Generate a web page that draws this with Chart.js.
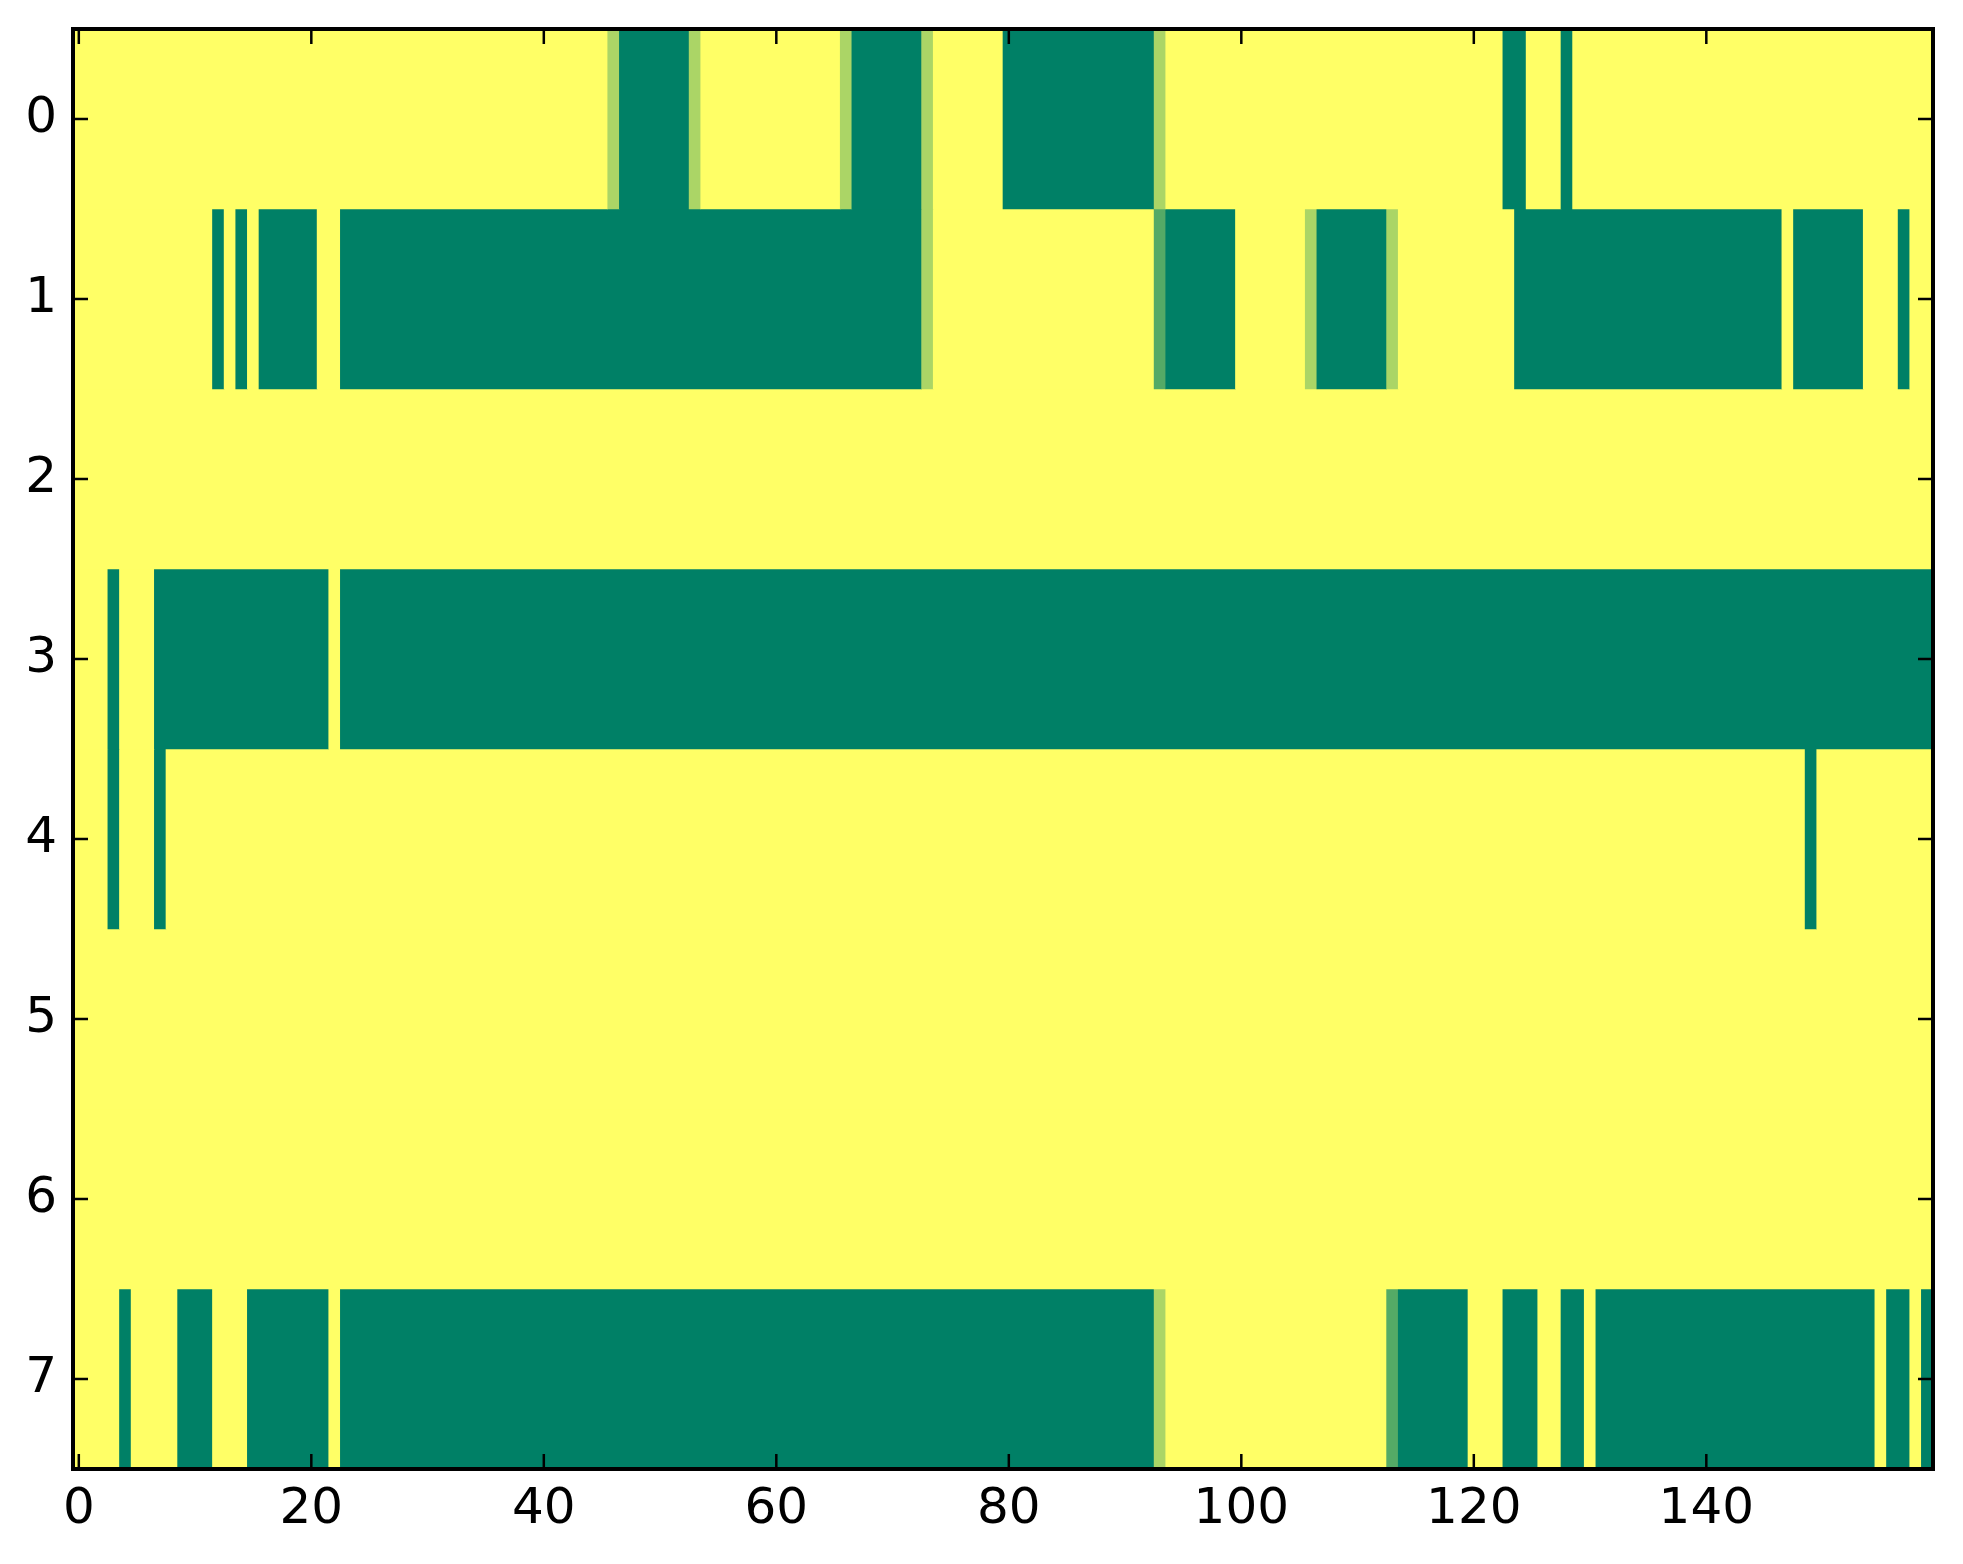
<!DOCTYPE html>
<html>
<head>
<meta charset="utf-8">
<script src="https://cdn.jsdelivr.net/npm/chart.js@4/dist/chart.umd.min.js"></script>
<style>
  html, body { margin: 0; padding: 0; background: #fff; }
  canvas { display: block; }
</style>
</head>
<body>
<canvas id="grid" width="1963" height="1564"></canvas>
<script>
// Linhas do mapa (0..7) e colunas (0..159)
const rowLabels = ['0', '1', '2', '3', '4', '5', '6', '7'];
const nCols = 160;
const xTicks = [0, 20, 40, 60, 80, 100, 120, 140];

// Trechos não-amarelos de cada linha: [coluna inicial, coluna final, valor]
const row0 = [[46, 46, 0.33], [47, 52, 1], [53, 53, 0.33], [66, 66, 0.33], [67, 72, 1], [73, 73, 0.33],
              [80, 92, 1], [93, 93, 0.33], [123, 124, 1], [128, 128, 1]];
const row1 = [[12, 12, 1], [14, 14, 1], [16, 20, 1], [23, 72, 1], [73, 73, 0.33], [93, 93, 0.67],
              [94, 99, 1], [106, 106, 0.33], [107, 112, 1], [113, 113, 0.33], [124, 146, 1],
              [148, 153, 1], [157, 157, 1]];
const row2 = [];
const row3 = [[3, 3, 1], [7, 21, 1], [23, 159, 1]];
const row4 = [[3, 3, 1], [7, 7, 1], [149, 149, 1]];
const row5 = [];
const row6 = [];
const row7 = [[4, 4, 1], [9, 11, 1], [15, 21, 1], [23, 92, 1], [93, 93, 0.33], [113, 113, 0.67],
              [114, 119, 1], [123, 125, 1], [128, 129, 1], [131, 154, 1], [156, 157, 1], [159, 159, 1]];
const rows = [row0, row1, row2, row3, row4, row5, row6, row7];

// colormap summer_r
const summerR = v => `rgb(${Math.round(255 * (1 - v))},${Math.round(255 * (1 - v / 2))},102)`;

// Expande cada linha em células e junta células iguais em faixas
function rowSegments(runs) {
  const cells = new Array(nCols).fill(0);
  runs.forEach(([a, b, v]) => { for (let c = a; c <= b; c++) cells[c] = v; });
  const segs = [];
  let start = 0;
  for (let c = 1; c <= nCols; c++) {
    if (c === nCols || cells[c] !== cells[start]) {
      segs.push({ start, end: c - 1, v: cells[start] });
      start = c;
    }
  }
  return segs;
}

const datasets = rows.map((runs, r) => {
  const segs = rowSegments(runs);
  return {
    data: segs.map(s => ({ x: [s.start - 0.5, s.end + 0.5], y: rowLabels[r] })),
    backgroundColor: segs.map(s => summerR(s.v)),
    borderWidth: 0,
    barPercentage: 1,
    categoryPercentage: 1,
    grouped: false
  };
});

// Fundo, moldura e marcas internas no estilo clássico
const framePlugin = {
  id: 'frame',
  beforeDatasetsDraw(chart) {
    const { ctx, chartArea: a } = chart;
    ctx.save();
    ctx.fillStyle = summerR(0);
    ctx.fillRect(a.left, a.top, a.right - a.left, a.bottom - a.top);
    ctx.restore();
  },
  afterDatasetsDraw(chart) {
    const { ctx, chartArea: a, scales } = chart;
    ctx.save();
    ctx.strokeStyle = '#000';
    ctx.lineWidth = 2.5;
    ctx.beginPath();
    xTicks.forEach(v => {
      const px = scales.x.getPixelForValue(v);
      ctx.moveTo(px, a.bottom); ctx.lineTo(px, a.bottom - 15);
      ctx.moveTo(px, a.top); ctx.lineTo(px, a.top + 15);
    });
    rowLabels.forEach((l, i) => {
      const py = scales.y.getPixelForValue(i);
      ctx.moveTo(a.left, py); ctx.lineTo(a.left + 15, py);
      ctx.moveTo(a.right, py); ctx.lineTo(a.right - 15, py);
    });
    ctx.stroke();
    ctx.lineWidth = 4;
    ctx.strokeRect(a.left, a.top, a.right - a.left, a.bottom - a.top);
    ctx.restore();
  }
};

new Chart(document.getElementById('grid').getContext('2d'), {
  type: 'bar',
  data: { labels: rowLabels, datasets },
  options: {
    indexAxis: 'y',
    responsive: false,
    animation: false,
    devicePixelRatio: 1,
    layout: { padding: { top: 29, right: 30, left: 0, bottom: 0 } },
    plugins: { legend: { display: false }, tooltip: { enabled: false } },
    scales: {
      x: {
        type: 'linear', min: -0.5, max: 159.5,
        grid: { display: false, drawTicks: false },
        border: { display: false },
        afterBuildTicks: s => { s.ticks = xTicks.map(v => ({ value: v })); },
        afterFit: s => { s.height = 95; s.paddingLeft = 0; s.paddingRight = 0; },
        ticks: { color: '#000', padding: 11, maxRotation: 0, autoSkip: false,
                 font: { family: 'DejaVu Sans', size: 50 } }
      },
      y: {
        type: 'category',
        grid: { display: false, drawTicks: false },
        border: { display: false },
        afterFit: s => { s.width = 73; s.paddingTop = 0; s.paddingBottom = 0; },
        ticks: { color: '#000', padding: 16, font: { family: 'DejaVu Sans', size: 50 } }
      }
    }
  },
  plugins: [framePlugin]
});
</script>
</body>
</html>
